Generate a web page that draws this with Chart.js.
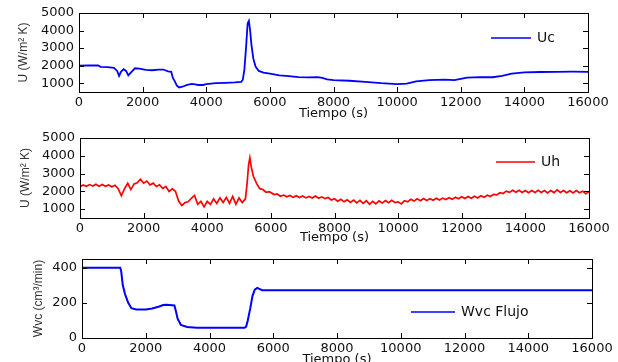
<!DOCTYPE html>
<html>
<head>
<meta charset="utf-8">
<script src="https://cdn.jsdelivr.net/npm/chart.js@4.4.0/dist/chart.umd.min.js"></script>
<style>
  html, body { margin: 0; padding: 0; background: #fff; width: 618px; height: 362px; overflow: hidden; }
  canvas { position: absolute; left: 0; }
</style>
</head>
<body>
<canvas id="ucChart"  width="618" height="124" style="top:0px"></canvas>
<canvas id="uhChart"  width="618" height="124" style="top:124px"></canvas>
<canvas id="wvcChart" width="618" height="124" style="top:246px"></canvas>
<script>
// ---- data ----
const timeTicks = [0, 2000, 4000, 6000, 8000, 10000, 12000, 14000, 16000];
const uTicks    = [1000, 2000, 3000, 4000, 5000];
const wvcTicks  = [0, 200, 400];

const ucTime = [0, 300, 600, 680, 900, 1100, 1200, 1260, 1320, 1400, 1480, 1550, 1650, 1760, 1900, 2100, 2300, 2500, 2650,
  2800, 2900, 2950, 3000, 3080, 3150, 3250, 3400, 3550, 3650, 3750, 3900, 4000, 4300, 4600, 4900, 5100, 5150, 5200, 5250,
  5300, 5340, 5380, 5420, 5480, 5550, 5650, 5800, 6000, 6300, 6600, 6900, 7200, 7500, 7650, 7800, 8000, 8500, 9000, 9500,
  10000, 10300, 10600, 11000, 11500, 11800, 12000, 12200, 12600, 13000, 13300, 13600, 14000, 14500, 15000, 15500, 16000];
const ucVals = [2000, 2010, 2010, 1930, 1920, 1880, 1700, 1420, 1650, 1800, 1700, 1450, 1650, 1850, 1830, 1760, 1740, 1780, 1780,
  1680, 1650, 1300, 1150, 850, 760, 800, 900, 960, 940, 900, 900, 950, 1000, 1020, 1050, 1080, 1200, 1800, 3000,
  4400, 4550, 4000, 3200, 2400, 1950, 1700, 1600, 1550, 1450, 1400, 1350, 1330, 1350, 1300, 1220, 1180, 1140, 1080, 1000,
  950, 980, 1100, 1180, 1210, 1180, 1250, 1320, 1350, 1340, 1420, 1550, 1620, 1640, 1650, 1660, 1650];

const uhTime = [0, 100, 200, 300, 400, 500, 600, 700, 800, 900, 1000, 1100, 1200, 1300, 1400, 1500, 1600, 1700, 1800, 1900,
  2000, 2100, 2200, 2300, 2400, 2500, 2600, 2700, 2800, 2900, 3000, 3100, 3200, 3300, 3400, 3500, 3600, 3700, 3800, 3900,
  4000, 4100, 4200, 4300, 4400, 4500, 4600, 4700, 4800, 4900, 5000, 5100, 5200, 5250, 5300, 5340, 5380, 5450, 5550, 5650,
  5750, 5850, 5950, 6000, 6100, 6200, 6300, 6400, 6500, 6600, 6700, 6800, 6900, 7000, 7100, 7200, 7300, 7400, 7500, 7600,
  7700, 7800, 7900, 8000, 8100, 8200, 8300, 8400, 8500, 8600, 8700, 8800, 8900, 9000, 9100, 9200, 9300, 9400, 9500, 9600,
  9700, 9800, 9900, 10000, 10100, 10200, 10300, 10400, 10500, 10600, 10700, 10800, 10900, 11000, 11100, 11200, 11300, 11400,
  11500, 11600, 11700, 11800, 11900, 12000, 12100, 12200, 12300, 12400, 12500, 12600, 12700, 12800, 12900, 13000, 13100,
  13200, 13300, 13400, 13500, 13600, 13700, 13800, 13900, 14000, 14100, 14200, 14300, 14400, 14500, 14600, 14700, 14800,
  14900, 15000, 15100, 15200, 15300, 15400, 15500, 15600, 15700, 15800, 15900, 16000];
const uhVals = [2260, 2360, 2280, 2380, 2300, 2400, 2290, 2380, 2280, 2360, 2260, 2340, 2150, 1750, 2150, 2450, 2100, 2420, 2480, 2680,
  2460, 2580, 2360, 2460, 2270, 2370, 2160, 2270, 1990, 2140, 2000, 1450, 1200, 1370, 1410, 1610, 1770, 1270, 1440, 1130,
  1440, 1270, 1580, 1320, 1630, 1370, 1660, 1320, 1720, 1280, 1630, 1370, 1580, 2400, 3500, 3880, 3400, 2850, 2450, 2150,
  2100, 1950, 1980, 1930, 1820, 1850, 1720, 1790, 1690, 1770, 1660, 1750, 1650, 1740, 1630, 1710, 1620, 1730, 1610, 1690,
  1590, 1650, 1510, 1580, 1440, 1550, 1410, 1530, 1380, 1510, 1350, 1490, 1320, 1470, 1270, 1440, 1300, 1460, 1340, 1480,
  1360, 1490, 1370, 1410, 1290, 1470, 1410, 1550, 1450, 1580, 1470, 1600, 1490, 1590, 1500, 1610, 1510, 1620,
  1540, 1640, 1550, 1670, 1580, 1700, 1600, 1710, 1610, 1720, 1630, 1750, 1660, 1780, 1710, 1830, 1800,
  1920, 1880, 2010, 1940, 2060, 1950, 2060, 1930, 2050, 1920, 2040, 1930, 2060, 1940, 2040, 1910, 2050,
  1930, 2080, 1940, 2050, 1920, 2030, 1910, 2040, 1920, 2010, 1860, 1970];

const wvcTime = [0, 1200, 1230, 1280, 1350, 1450, 1550, 1700, 2000, 2200, 2400, 2550, 2650, 2900, 2950, 3000, 3100, 3300,
  3600, 5100, 5150, 5200, 5280, 5350, 5420, 5500, 5580, 5650, 16000];
const wvcVals = [400, 400, 380, 300, 250, 200, 170, 162, 163, 168, 178, 188, 190, 185, 150, 110, 75, 63,
  58, 58, 65, 100, 170, 240, 275, 285, 278, 272, 272];

// ---- plugins ----
const tickFont  = { family: 'DejaVu Sans', size: 13 };
const labelFont = { family: 'Liberation Sans', size: 12 };

// MATLAB style box with inward ticks on all four sides
const matlabBox = {
  id: 'matlabBox',
  afterDatasetsDraw(chart) {
    const { ctx, chartArea: a, scales: { x, y } } = chart;
    ctx.save();
    ctx.strokeStyle = '#000';
    ctx.lineWidth = 1;
    ctx.strokeRect(a.left + .5, a.top + .5, a.right - a.left, a.bottom - a.top);
    ctx.beginPath();
    x.ticks.forEach(t => {
      const px = Math.round(x.getPixelForValue(t.value)) + .5;
      ctx.moveTo(px, a.bottom); ctx.lineTo(px, a.bottom - 5);
      ctx.moveTo(px, a.top);    ctx.lineTo(px, a.top + 5);
    });
    y.ticks.forEach(t => {
      const py = Math.round(y.getPixelForValue(t.value)) + .5;
      ctx.moveTo(a.left, py);  ctx.lineTo(a.left + 5, py);
      ctx.moveTo(a.right, py); ctx.lineTo(a.right - 5, py);
    });
    ctx.stroke();
    ctx.restore();
  }
};

// legend drawn inside the axes, no frame
const inLegend = {
  id: 'inLegend',
  afterDraw(chart, args, o) {
    const ds = chart.data.datasets[0];
    const { ctx } = chart;
    ctx.save();
    ctx.strokeStyle = ds.borderColor;
    ctx.lineWidth = 1.5;
    ctx.beginPath(); ctx.moveTo(o.x1, o.y); ctx.lineTo(o.x2, o.y); ctx.stroke();
    ctx.font = '14px "DejaVu Sans"';
    ctx.fillStyle = '#111';
    ctx.textBaseline = 'middle';
    ctx.fillText(ds.label, o.x2 + 6, o.y);
    ctx.restore();
  }
};

function makeChart(id, opt) {
  return new Chart(document.getElementById(id), {
    type: 'line',
    data: {
      datasets: [{
        label: opt.label,
        data: opt.time.map((t, i) => ({ x: t, y: opt.vals[i] })),
        borderColor: opt.color,
        borderWidth: opt.width,
        pointRadius: 0,
        tension: 0,
        fill: false
      }]
    },
    options: {
      responsive: false,
      animation: false,
      devicePixelRatio: 1,
      layout: { padding: { left: 0, top: opt.top, right: 618 - opt.right, bottom: 0 } },
      plugins: {
        legend: { display: false },
        tooltip: { enabled: false },
        inLegend: opt.legend
      },
      scales: {
        x: {
          type: 'linear', min: 0, max: 16000,
          afterBuildTicks: s => { s.ticks = timeTicks.map(v => ({ value: v })); },
          afterFit: s => { s.height = opt.xh; },
          grid: { display: false, drawTicks: false },
          border: { display: false },
          ticks: { padding: 3, font: tickFont, color: '#111', maxRotation: 0, autoSkip: false, callback: v => String(v) },
          title: { display: true, text: 'Tiempo (s)', font: tickFont, color: '#111', padding: { top: 0, bottom: 3 } }
        },
        y: {
          min: opt.ymin, max: opt.ymax,
          afterBuildTicks: s => { s.ticks = opt.yticks.map(v => ({ value: v })); },
          afterFit: s => { s.width = opt.left; },
          grid: { display: false, drawTicks: false },
          border: { display: false },
          ticks: { padding: 5, font: tickFont, color: '#111', callback: v => String(v) },
          title: { display: true, text: opt.ytitle, font: labelFont, color: '#333', padding: { top: opt.ytPad, bottom: 0 } }
        }
      }
    },
    plugins: [matlabBox, inLegend]
  });
}

makeChart('ucChart', {
  label: 'Uc', time: ucTime, vals: ucVals, color: '#0000ff', width: 1.8,
  top: 13, right: 588, left: 79, xh: 32, ymin: 500, ymax: 5000, yticks: uTicks,
  ytitle: 'U (W/m² K)', ytPad: 16,
  legend: { x1: 491, x2: 531, y: 38 }
});

makeChart('uhChart', {
  label: 'Uh', time: uhTime, vals: uhVals, color: '#ff0000', width: 1.7,
  top: 14, right: 589, left: 80, xh: 30, ymin: 500, ymax: 5000, yticks: uTicks,
  ytitle: 'U (W/m² K)', ytPad: 18,
  legend: { x1: 496, x2: 535, y: 38 }
});

makeChart('wvcChart', {
  label: 'Wvc Flujo', time: wvcTime, vals: wvcVals, color: '#0000ff', width: 2,
  top: 13, right: 592, left: 82, xh: 32, ymin: 0, ymax: 450, yticks: wvcTicks,
  ytitle: 'Wvc (cm³/min)', ytPad: 31,
  legend: { x1: 411, x2: 455, y: 66 }
});
</script>
</body>
</html>
